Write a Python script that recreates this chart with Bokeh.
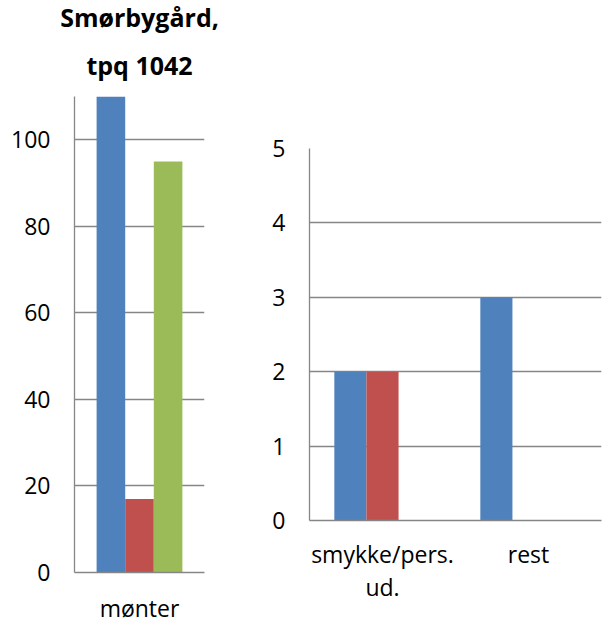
from bokeh.plotting import figure
from bokeh.models import FactorRange, Range1d, FixedTicker, Title
from bokeh.transform import dodge
from bokeh.layouts import row, column
from bokeh.embed import file_html
from bokeh.resources import INLINE

# ---- data ----
title_lines = ["Smørbygård,", "tpq 1042"]

left_categories = ["mønter"]
left_blue = [110]
left_red = [17]
left_green = [95]
left_ticks = [0, 20, 40, 60, 80, 100]

right_categories = ["smykke/pers.\nud.", "rest"]
right_blue = [2, 3]
right_red = [2, 0]
right_green = [0, 0]
right_ticks = [0, 1, 2, 3, 4, 5]

BLUE, RED, GREEN = "#4F81BD", "#C0504D", "#9BBB59"
GRID = "#868686"
FONT = "Open Sans"


def style(p, ticks, xstandoff):
    p.outline_line_color = None
    p.xgrid.grid_line_color = None
    p.ygrid.grid_line_color = GRID
    p.ygrid.grid_line_width = 1.3
    p.yaxis.ticker = FixedTicker(ticks=ticks)
    for ax in (p.xaxis[0], p.yaxis[0]):
        ax.axis_line_color = GRID
        ax.axis_line_width = 1.3
        ax.major_tick_line_color = None
        ax.minor_tick_line_color = None
        ax.major_tick_out = 0
        ax.major_tick_in = 0
        ax.minor_tick_out = 0
        ax.minor_tick_in = 0
        ax.axis_label_standoff = 0
        ax.major_label_text_font = FONT
        ax.major_label_text_font_size = "23px"
        ax.major_label_text_color = "black"
    p.xaxis.major_label_text_line_height = 1.05
    p.yaxis.major_label_standoff = 24
    p.xaxis.major_label_standoff = xstandoff


def bars(p, cats, blue, red, green):
    data = dict(cat=cats, blue=blue, red=red, green=green)
    for col, off, c in (("blue", -0.22, BLUE), ("red", 0.0, RED), ("green", 0.22, GREEN)):
        p.vbar(x=dodge("cat", off, range=p.x_range), top=col, width=0.22,
               source=data, fill_color=c, line_color=None)


# ---- left panel ----
p1 = figure(width=240, height=626, x_range=FactorRange(*left_categories, range_padding=0),
            y_range=Range1d(0, 110), output_backend="svg", toolbar_location=None,
            min_border_left=74, min_border_right=36, min_border_top=96, min_border_bottom=51,
            title=title_lines[0])
inner = Title(text=title_lines[1])
for t, so in ((p1.title, -6), (inner, 30)):
    t.text_font = FONT
    t.text_font_size = "25px"
    t.text_font_style = "bold"
    t.text_color = "black"
    t.align = "center"
    t.standoff = so
p1.add_layout(inner, "above")
style(p1, left_ticks, 19)
bars(p1, left_categories, left_blue, left_red, left_green)

# ---- right panel ----
p2 = figure(width=364, height=626, x_range=FactorRange(*right_categories, range_padding=0),
            y_range=Range1d(0, 5), output_backend="svg", toolbar_location=None,
            min_border_left=69, min_border_right=3, min_border_top=148, min_border_bottom=106)
style(p2, right_ticks, 17)
bars(p2, right_categories, right_blue, right_red, right_green)

layout = row(column(p1), column(p2))
open("out.html", "w").write(file_html(layout, INLINE))
